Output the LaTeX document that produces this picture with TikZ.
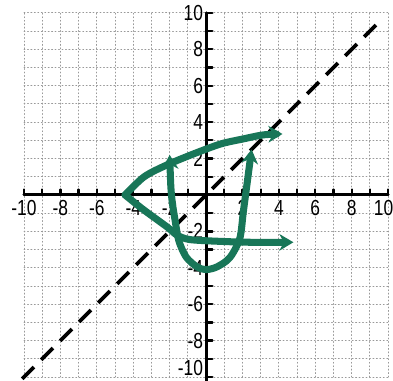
\documentclass[tikz,border=0pt]{standalone}
\usepackage{fontspec}
\usetikzlibrary{arrows.meta}
\setsansfont{Liberation Sans}
\definecolor{marker}{RGB}{24,118,88}
\begin{document}
\begin{tikzpicture}[line join=round, line cap=round,>={Stealth[length=11pt,width=13pt]},font=\sffamily\fontsize{17}{17}\selectfont,scale=0.5]
\tikzset{every node/.style={xscale=0.8,inner sep=1pt}}
\tikzset{pen/.style={marker,line width=5.5pt}}
\useasboundingbox (-11.32,-10.22) rectangle (10.27,10.71);
% grid paper
\draw[gray!80,dotted,line width=0.7pt] (-10,-10) grid (10,10);
% axes
\draw[line width=2.4pt] (-10,0)--(10,0);
\draw[line width=2.4pt] (0,-10.2)--(0,10);
\foreach \x in {-10,...,10}
\draw[line width=1.8pt] (\x,0)--(\x,0.3);
\foreach \y in {-10,...,10}
\draw[line width=1.8pt] (0,\y)--(0.35,\y);
\foreach \x/\px in {-10/-10,-8/-8,-6/-6,-4/-4,-2/-2,2/2,4/4,6/6,8/8,10/9.75}
\node[below] (xl\x) at (\px,-0.2) {\x};
\foreach \y/\py in {-10/-9.5,-8/-8,-6/-6,-4/-4,-2/-2,2/2,4/4,6/6,8/8,10/10}
\node[left] (yl\y) at (-0.1,\py) {\y};
% line y=x
\draw[line width=3pt,line cap=butt,dash pattern=on 13pt off 8pt] (-10.1,-10.1)--(9.6,9.6);
% curves
\draw[pen,<->] plot[smooth] coordinates {(-2,2.2) (-1.9,0) (-1.7,-1.4) (-1.5,-2.5) (-1.1,-3.4) (-0.5,-3.95) (0,-4.1) (0.6,-3.95) (1.3,-3.45) (1.85,-2.4) (2.05,-0.9) (2.25,0.6) (2.5,2.5)};
\draw[pen,->] plot[smooth] coordinates {(-4.45,0) (-3.45,-0.8) (-2.15,-1.75) (-1.6,-2.2) (-0.9,-2.45) (0.8,-2.55) (2.5,-2.6) (4.8,-2.6)};
\draw[pen,->] plot[smooth] coordinates {(-4.45,0) (-3.4,1.0) (-2.15,1.65) (-0.7,2.25) (0.8,2.8) (2.05,3.08) (3.15,3.3) (4.2,3.35)};
\end{tikzpicture}
\end{document}
